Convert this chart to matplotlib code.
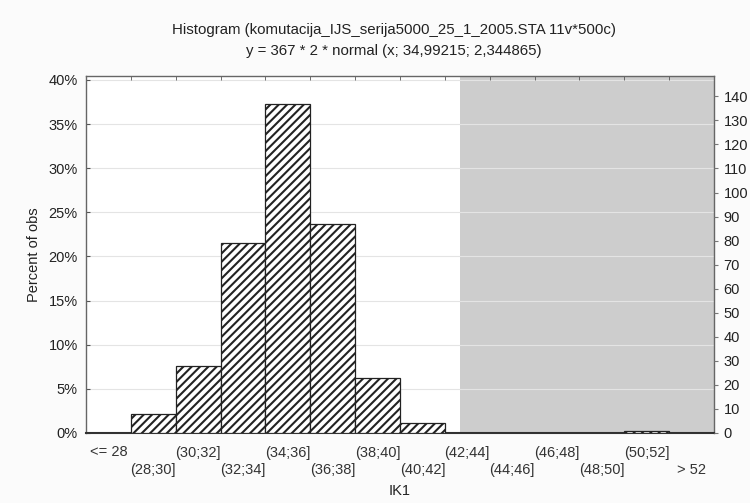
import matplotlib
matplotlib.use("Agg")
import matplotlib.pyplot as plt
import numpy as np

plt.rcParams['font.family'] = ['Liberation Sans', 'DejaVu Sans']
plt.rcParams['hatch.linewidth'] = 1.5

bins = ["<= 28", "(28;30]", "(30;32]", "(32;34]", "(34;36]", "(36;38]", "(38;40]",
        "(40;42]", "(42;44]", "(44;46]", "(46;48]", "(48;50]", "(50;52]", "> 52"]
counts = [0, 8, 28, 79, 137, 87, 23, 4, 0, 0, 0, 0, 1, 0]
N = 367
pct_ticks = [0, 5, 10, 15, 20, 25, 30, 35, 40]
count_ticks = [0, 10, 20, 30, 40, 50, 60, 70, 80, 90, 100, 110, 120, 130, 140]
title1 = "Histogram (komutacija_IJS_serija5000_25_1_2005.STA 11v*500c)"
title2 = "y = 367 * 2 * normal (x; 34,99215; 2,344865)"

pct = [c / N * 100 for c in counts]
ymax_pct = 40.45
FS = 10.5

fig = plt.figure(figsize=(7.5, 5.03), dpi=100, facecolor='#fbfbfb')
ax = fig.add_axes([86/750, 1-433/503, (714-86)/750, (433-76)/503])
ax.set_facecolor('white')

x = np.arange(len(bins)) + 0.5
ax.set_xlim(0, len(bins))
ax.set_ylim(0, ymax_pct)

ax.axvspan(8.33, len(bins), color='#cdcdcd', zorder=0, lw=0)
for t in pct_ticks[1:]:
    ax.axhline(t, color='#e4e4e4', lw=0.8, zorder=1)

ax.bar(x, pct, width=1.0, facecolor='white', edgecolor='#222222', hatch='////',
       linewidth=0.9, zorder=3)

ax.set_yticks(pct_ticks)
ax.set_yticklabels([f"{t}%" for t in pct_ticks], fontsize=FS, color='#222222')
ax.tick_params(axis='y', direction='in', length=3, color='#555555', pad=6)
ax.set_xticks(x)
labels = []
for i, b in enumerate(bins):
    labels.append(b if i % 2 == 0 else "\n" + b)
ax.set_xticklabels(labels, fontsize=FS, color='#333333', linespacing=1.3)
ax.tick_params(axis='x', length=0, pad=9)
ax.set_xticks(np.arange(1, len(bins)), minor=True)
ax.tick_params(axis='x', which='minor', top=True, bottom=False, direction='in',
               length=3, color='#555555')

ax.set_ylabel("Percent of obs", fontsize=FS, color='#222222', labelpad=5)
ax.set_xlabel("IK1", fontsize=FS, color='#222222', labelpad=5)

for s in ['left', 'right', 'top']:
    ax.spines[s].set_color('#666666')
    ax.spines[s].set_linewidth(1.0)
ax.spines['bottom'].set_color('#333333')
ax.spines['bottom'].set_linewidth(1.5)

ax2 = ax.twinx()
ax2.set_ylim(0, ymax_pct * N / 100)
ax2.set_yticks(count_ticks)
ax2.set_yticklabels([str(t) for t in count_ticks], fontsize=FS, color='#222222')
ax2.tick_params(axis='y', direction='out', length=3, color='#777777', pad=4)
for s in ax2.spines.values():
    s.set_visible(False)

fig.text(394/750, 1-30/503, title1, ha='center', va='center', fontsize=10.8, color='#222222')
fig.text(394/750, 1-51/503, title2, ha='center', va='center', fontsize=10.8, color='#222222')

fig.savefig("out.png", dpi=100, facecolor=fig.get_facecolor())
